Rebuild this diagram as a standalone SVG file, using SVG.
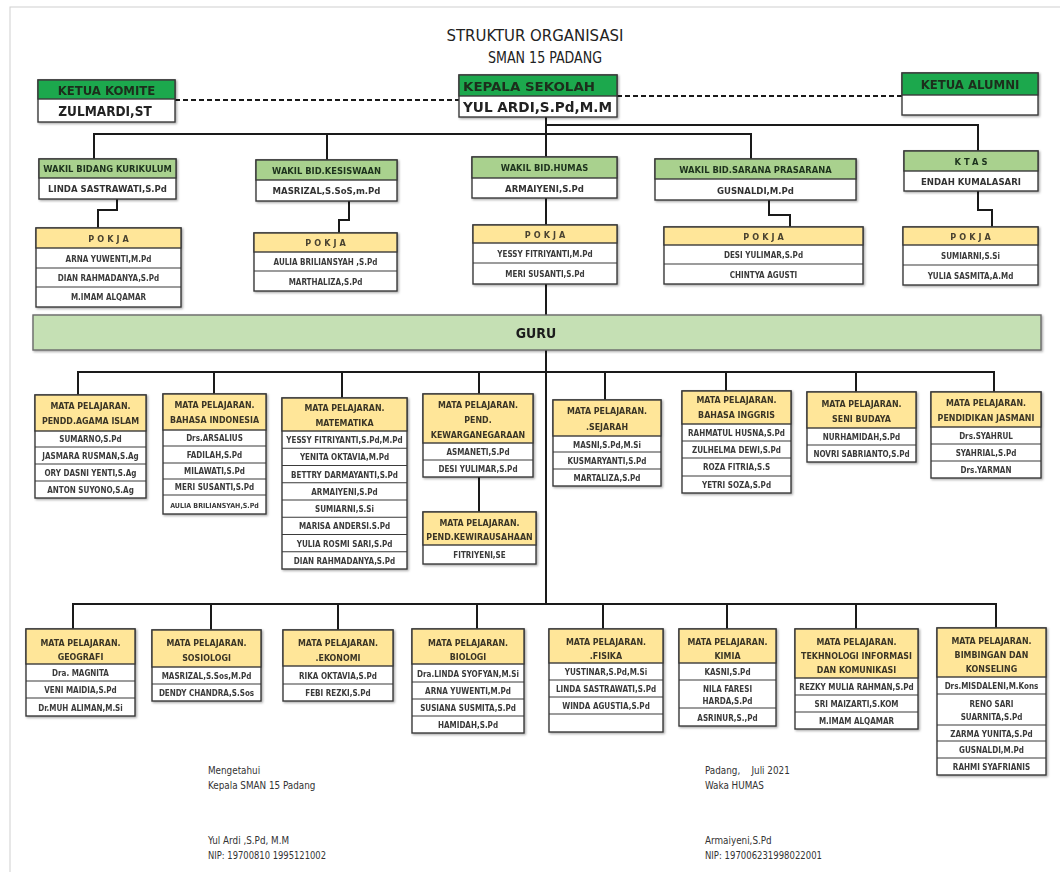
<svg xmlns="http://www.w3.org/2000/svg" width="1060" height="872" viewBox="0 0 1060 872">
<style>
text{font-family:"DejaVu Sans Condensed","DejaVu Sans",sans-serif;text-anchor:middle}
.tt{font-size:15.5px;fill:#222}
.th{font-size:13px;font-weight:bold;fill:#1c2e1c}
.tn{font-size:13.5px;font-weight:bold;fill:#222}
.hw{font-size:9.3px;font-weight:bold;fill:#1e331e}
.nm{font-size:9.5px;font-weight:bold;fill:#333}
.mh{font-size:8.8px;font-weight:bold;fill:#3a3526}
.pk{font-size:9px;font-weight:bold;fill:#4a4330;letter-spacing:3px}
.r{font-size:8px;font-weight:bold;fill:#3a3a3a}
.sg{font-size:9.8px;fill:#333;text-anchor:start}
.bx{fill:#fff;stroke:#3a3a3a;stroke-width:1.4}
.g1{fill:#1fa84e;stroke:#3a3a3a;stroke-width:1.4}
.g2{fill:#a9d18e;stroke:#3a3a3a;stroke-width:1.4}
.y{fill:#ffe699;stroke:#3a3a3a;stroke-width:1.4}
.s{stroke:#3a3a3a;stroke-width:1.2}
.ln{stroke:#1a1a1a;stroke-width:2;fill:none}
.dl{stroke:#1a1a1a;stroke-width:2;stroke-dasharray:5 3;fill:none}
</style>
<defs>
<filter id="sh" x="-5%" y="-5%" width="115%" height="115%"><feDropShadow dx="1.2" dy="1.2" stdDeviation="0.8" flood-color="#000" flood-opacity="0.35"/></filter>
</defs>
<rect x="0" y="0" width="1060" height="872" fill="#fff"/>
<rect x="10" y="7" width="1070" height="880" fill="none" stroke="#d0d0d0" stroke-width="1"/>
<text class="tt" x="535" y="41" textLength="177" lengthAdjust="spacingAndGlyphs">STRUKTUR ORGANISASI</text>
<text class="tt" x="545" y="63" textLength="114" lengthAdjust="spacingAndGlyphs">SMAN 15 PADANG</text>

<g id="connectors">
<path class="dl" d="M175 100H459"/>
<path class="dl" d="M617 96H902"/>
<path class="ln" d="M546 117V157"/>
<path class="ln" d="M546 125H978V151"/>
<path class="ln" d="M94 159V134H751V159"/>
<path class="ln" d="M327 134V160"/>
<path class="ln" d="M117 199V210H98V228"/>
<path class="ln" d="M349 201V220H339V233"/>
<path class="ln" d="M546 198V225"/>
<path class="ln" d="M769 200V215H790V227"/>
<path class="ln" d="M978 191V210H992V227"/>
<path class="ln" d="M546 284V315"/>
<path class="ln" d="M546 350V604"/>
<path class="ln" d="M78 395V372H994V392"/>
<path class="ln" d="M214 372V394M342 372V398M479 372V394M605 372V400M726 372V391M856 372V392"/>
<path class="ln" d="M479 477V512"/>
<path class="ln" d="M73 629V604H996V628"/>
<path class="ln" d="M211 604V630M338 604V630M477 604V629M603 604V629M727 604V629M856 604V629"/>
</g>

<g id="ketua-komite" filter="url(#sh)">
<rect class="bx" x="38" y="80" width="137" height="42"/>
<rect class="g1" x="38" y="80" width="137" height="19"/>
<text class="th" x="106.5" y="94.5">KETUA KOMITE</text>
<text class="tn" x="105" y="116">ZULMARDI,ST</text>
</g>
<g id="kepala-sekolah" filter="url(#sh)">
<rect class="bx" x="459" y="75" width="158" height="42"/>
<rect class="g1" x="459" y="75" width="158" height="21"/>
<text class="th" x="463" y="91" style="text-anchor:start" textLength="132" lengthAdjust="spacingAndGlyphs">KEPALA SEKOLAH</text>
<text class="tn" x="463" y="112" style="text-anchor:start" textLength="149" lengthAdjust="spacingAndGlyphs">YUL ARDI,S.Pd,M.M</text>
</g>
<g id="ketua-alumni" filter="url(#sh)">
<rect class="bx" x="902" y="73" width="136" height="42"/>
<rect class="g1" x="902" y="73" width="136" height="22"/>
<text class="th" x="970" y="89">KETUA ALUMNI</text>
</g>

<g id="wakil-kurikulum" filter="url(#sh)">
<rect class="bx" x="39" y="159" width="137" height="40"/>
<rect class="g2" x="39" y="159" width="137" height="19"/>
<text class="hw" x="107.5" y="172">WAKIL BIDANG KURIKULUM</text>
<text class="nm" x="107.5" y="192">LINDA SASTRAWATI,S.Pd</text>
</g>
<g id="wakil-kesiswaan" filter="url(#sh)">
<rect class="bx" x="256" y="160" width="141" height="41"/>
<rect class="g2" x="256" y="160" width="141" height="20"/>
<text class="hw" x="326.5" y="174">WAKIL BID.KESISWAAN</text>
<text class="nm" x="326.5" y="194">MASRIZAL,S.SoS,m.Pd</text>
</g>
<g id="wakil-humas" filter="url(#sh)">
<rect class="bx" x="472" y="157" width="145" height="41"/>
<rect class="g2" x="472" y="157" width="145" height="21"/>
<text class="hw" x="544.5" y="171">WAKIL BID.HUMAS</text>
<text class="nm" x="544.5" y="192">ARMAIYENI,S.Pd</text>
</g>
<g id="wakil-sarana" filter="url(#sh)">
<rect class="bx" x="655" y="159" width="201" height="41"/>
<rect class="g2" x="655" y="159" width="201" height="20"/>
<text class="hw" x="755.5" y="173">WAKIL BID.SARANA PRASARANA</text>
<text class="nm" x="755.5" y="194">GUSNALDI,M.Pd</text>
</g>
<g id="ktas" filter="url(#sh)">
<rect class="bx" x="904" y="151" width="134" height="40"/>
<rect class="g2" x="904" y="151" width="134" height="20"/>
<text class="hw" x="972.5" y="165" style="letter-spacing:3px">KTAS</text>
<text class="nm" x="971" y="185">ENDAH KUMALASARI</text>
</g>

<g id="pokja-kurikulum" filter="url(#sh)">
<rect class="bx" x="36" y="228" width="145" height="79"/>
<rect class="y" x="36" y="228" width="145" height="20"/>
<path class="s" d="M36 268H181M36 287H181"/>
<text class="pk" x="110" y="242">POKJA</text>
<text class="r" x="108.5" y="262">ARNA YUWENTI,M.Pd</text>
<text class="r" x="108.5" y="281">DIAN RAHMADANYA,S.Pd</text>
<text class="r" x="108.5" y="300">M.IMAM ALQAMAR</text>
</g>
<g id="pokja-kesiswaan" filter="url(#sh)">
<rect class="bx" x="254" y="233" width="143" height="58"/>
<rect class="y" x="254" y="233" width="143" height="19"/>
<path class="s" d="M254 271H397"/>
<text class="pk" x="327" y="246">POKJA</text>
<text class="r" x="325.5" y="265">AULIA BRILIANSYAH ,S.Pd</text>
<text class="r" x="325.5" y="285">MARTHALIZA,S.Pd</text>
</g>
<g id="pokja-humas" filter="url(#sh)">
<rect class="bx" x="473" y="225" width="144" height="59"/>
<rect class="y" x="473" y="225" width="144" height="18"/>
<path class="s" d="M473 263H617"/>
<text class="pk" x="546.5" y="238">POKJA</text>
<text class="r" x="545" y="257">YESSY FITRIYANTI,M.Pd</text>
<text class="r" x="545" y="277">MERI SUSANTI,S.Pd</text>
</g>
<g id="pokja-sarana" filter="url(#sh)">
<rect class="bx" x="664" y="227" width="199" height="57"/>
<rect class="y" x="664" y="227" width="199" height="18"/>
<path class="s" d="M664 264H863"/>
<text class="pk" x="765" y="240">POKJA</text>
<text class="r" x="763.5" y="258">DESI YULIMAR,S.Pd</text>
<text class="r" x="763.5" y="278">CHINTYA AGUSTI</text>
</g>
<g id="pokja-ktas" filter="url(#sh)">
<rect class="bx" x="903" y="227" width="135" height="58"/>
<rect class="y" x="903" y="227" width="135" height="18"/>
<path class="s" d="M903 265H1038"/>
<text class="pk" x="972" y="240">POKJA</text>
<text class="r" x="970.5" y="259">SUMIARNI,S.Si</text>
<text class="r" x="970.5" y="279">YULIA SASMITA,A.Md</text>
</g>

<g id="guru" filter="url(#sh)">
<rect x="33" y="315" width="1008" height="35" fill="#c5e0b4" stroke="#6a6a6a" stroke-width="1.4"/>
<text x="536" y="338" style="font-size:14px;font-weight:bold;fill:#1a1a1a">GURU</text>
</g>

<g id="mp-agama" filter="url(#sh)">
<rect class="bx" x="35" y="395" width="111" height="103"/>
<rect class="y" x="35" y="395" width="111" height="36"/>
<path class="s" d="M35 447H146M35 464H146M35 481H146"/>
<text class="mh" x="90.5" y="409">MATA PELAJARAN.</text>
<text class="mh" x="90.5" y="424">PENDD.AGAMA ISLAM</text>
<text class="r" x="90.5" y="442">SUMARNO,S.Pd</text>
<text class="r" x="90.5" y="459">JASMARA RUSMAN,S.Ag</text>
<text class="r" x="90.5" y="476">ORY DASNI YENTI,S.Ag</text>
<text class="r" x="90.5" y="493">ANTON SUYONO,S.Ag</text>
</g>
<g id="mp-bindo" filter="url(#sh)">
<rect class="bx" x="163" y="394" width="103" height="120"/>
<rect class="y" x="163" y="394" width="103" height="36"/>
<path class="s" d="M163 446H266M163 463H266M163 479H266M163 495H266"/>
<text class="mh" x="214.5" y="408">MATA PELAJARAN.</text>
<text class="mh" x="214.5" y="423">BAHASA INDONESIA</text>
<text class="r" x="214.5" y="441">Drs.ARSALIUS</text>
<text class="r" x="214.5" y="458">FADILAH,S.Pd</text>
<text class="r" x="214.5" y="474">MILAWATI,S.Pd</text>
<text class="r" x="214.5" y="490">MERI SUSANTI,S.Pd</text>
<text class="r" x="214.5" y="508" style="font-size:7px">AULIA BRILIANSYAH,S.Pd</text>
</g>
<g id="mp-matematika" filter="url(#sh)">
<rect class="bx" x="282" y="398" width="125" height="171"/>
<rect class="y" x="282" y="398" width="125" height="33"/>
<path class="s" d="M282 448.25H407M282 465.5H407M282 482.75H407M282 500H407M282 517.25H407M282 534.5H407M282 551.75H407"/>
<text class="mh" x="344.5" y="411">MATA PELAJARAN.</text>
<text class="mh" x="344.5" y="426">MATEMATIKA</text>
<text class="r" x="344.5" y="443">YESSY FITRIYANTI,S.Pd,M.Pd</text>
<text class="r" x="344.5" y="460.3">YENITA OKTAVIA,M.Pd</text>
<text class="r" x="344.5" y="477.5">BETTRY DARMAYANTI,S.Pd</text>
<text class="r" x="344.5" y="494.8">ARMAIYENI,S.Pd</text>
<text class="r" x="344.5" y="512">SUMIARNI,S.Si</text>
<text class="r" x="344.5" y="529.3">MARISA ANDERSI.S.Pd</text>
<text class="r" x="344.5" y="546.5">YULIA ROSMI SARI,S.Pd</text>
<text class="r" x="344.5" y="563.8">DIAN RAHMADANYA,S.Pd</text>
</g>
<g id="mp-pkn" filter="url(#sh)">
<rect class="bx" x="423" y="394" width="110" height="83"/>
<rect class="y" x="423" y="394" width="110" height="49"/>
<path class="s" d="M423 460H533"/>
<text class="mh" x="478" y="408">MATA PELAJARAN.</text>
<text class="mh" x="478" y="423">PEND.</text>
<text class="mh" x="478" y="438">KEWARGANEGARAAN</text>
<text class="r" x="478" y="455">ASMANETI,S.Pd</text>
<text class="r" x="478" y="472">DESI YULIMAR,S.Pd</text>
</g>
<g id="mp-kewirausahaan" filter="url(#sh)">
<rect class="bx" x="423" y="512" width="113" height="52"/>
<rect class="y" x="423" y="512" width="113" height="33"/>
<text class="mh" x="479.5" y="526">MATA PELAJARAN.</text>
<text class="mh" x="479.5" y="540">PEND.KEWIRAUSAHAAN</text>
<text class="r" x="479.5" y="558">FITRIYENI,SE</text>
</g>
<g id="mp-sejarah" filter="url(#sh)">
<rect class="bx" x="553" y="400" width="108" height="86"/>
<rect class="y" x="553" y="400" width="108" height="36"/>
<path class="s" d="M553 452H661M553 469H661"/>
<text class="mh" x="607" y="414">MATA PELAJARAN.</text>
<text class="mh" x="607" y="430">.SEJARAH</text>
<text class="r" x="607" y="448">MASNI,S.Pd,M.Si</text>
<text class="r" x="607" y="464">KUSMARYANTI,S.Pd</text>
<text class="r" x="607" y="481">MARTALIZA,S.Pd</text>
</g>
<g id="mp-binggris" filter="url(#sh)">
<rect class="bx" x="682" y="391" width="109" height="102"/>
<rect class="y" x="682" y="391" width="109" height="33"/>
<path class="s" d="M682 441H791M682 458H791M682 476H791"/>
<text class="mh" x="736.5" y="403">MATA PELAJARAN.</text>
<text class="mh" x="736.5" y="418">BAHASA INGGRIS</text>
<text class="r" x="736.5" y="436">RAHMATUL HUSNA,S.Pd</text>
<text class="r" x="736.5" y="453">ZULHELMA DEWI,S.Pd</text>
<text class="r" x="736.5" y="470">ROZA FITRIA,S.S</text>
<text class="r" x="736.5" y="488">YETRI SOZA,S.Pd</text>
</g>
<g id="mp-seni" filter="url(#sh)">
<rect class="bx" x="807" y="392" width="109" height="70"/>
<rect class="y" x="807" y="392" width="109" height="36"/>
<path class="s" d="M807 445H916"/>
<text class="mh" x="861.5" y="407">MATA PELAJARAN.</text>
<text class="mh" x="861.5" y="422">SENI BUDAYA</text>
<text class="r" x="861.5" y="440">NURHAMIDAH,S.Pd</text>
<text class="r" x="861.5" y="457">NOVRI SABRIANTO,S.Pd</text>
</g>
<g id="mp-penjas" filter="url(#sh)">
<rect class="bx" x="931" y="392" width="110" height="86"/>
<rect class="y" x="931" y="392" width="110" height="35"/>
<path class="s" d="M931 444H1041M931 461H1041"/>
<text class="mh" x="986" y="406">MATA PELAJARAN.</text>
<text class="mh" x="986" y="421">PENDIDIKAN JASMANI</text>
<text class="r" x="986" y="439">Drs.SYAHRUL</text>
<text class="r" x="986" y="456">SYAHRIAL,S.Pd</text>
<text class="r" x="986" y="473">Drs.YARMAN</text>
</g>

<g id="mp-geografi" filter="url(#sh)">
<rect class="bx" x="26" y="629" width="109" height="87"/>
<rect class="y" x="26" y="629" width="109" height="35"/>
<path class="s" d="M26 681H135M26 698H135"/>
<text class="mh" x="80.5" y="646">MATA PELAJARAN.</text>
<text class="mh" x="80.5" y="660">GEOGRAFI</text>
<text class="r" x="80.5" y="676">Dra. MAGNITA</text>
<text class="r" x="80.5" y="693">VENI MAIDIA,S.Pd</text>
<text class="r" x="80.5" y="711">Dr.MUH ALIMAN,M.Si</text>
</g>
<g id="mp-sosiologi" filter="url(#sh)">
<rect class="bx" x="152" y="630" width="109" height="71"/>
<rect class="y" x="152" y="630" width="109" height="37"/>
<path class="s" d="M152 684H261"/>
<text class="mh" x="206.5" y="646">MATA PELAJARAN.</text>
<text class="mh" x="206.5" y="661">SOSIOLOGI</text>
<text class="r" x="206.5" y="679">MASRIZAL,S.Sos,M.Pd</text>
<text class="r" x="206.5" y="696">DENDY CHANDRA,S.Sos</text>
</g>
<g id="mp-ekonomi" filter="url(#sh)">
<rect class="bx" x="283" y="630" width="110" height="71"/>
<rect class="y" x="283" y="630" width="110" height="36"/>
<path class="s" d="M283 684H393"/>
<text class="mh" x="338" y="646">MATA PELAJARAN.</text>
<text class="mh" x="338" y="661">.EKONOMI</text>
<text class="r" x="338" y="679">RIKA OKTAVIA,S.Pd</text>
<text class="r" x="338" y="696">FEBI REZKI,S.Pd</text>
</g>
<g id="mp-biologi" filter="url(#sh)">
<rect class="bx" x="412" y="629" width="112" height="104"/>
<rect class="y" x="412" y="629" width="112" height="35"/>
<path class="s" d="M412 682H524M412 699H524M412 716H524"/>
<text class="mh" x="468" y="646">MATA PELAJARAN.</text>
<text class="mh" x="468" y="660">BIOLOGI</text>
<text class="r" x="468" y="677">Dra.LINDA SYOFYAN,M.Si</text>
<text class="r" x="468" y="694">ARNA YUWENTI,M.Pd</text>
<text class="r" x="468" y="711">SUSIANA SUSMITA,S.Pd</text>
<text class="r" x="468" y="728">HAMIDAH,S.Pd</text>
</g>
<g id="mp-fisika" filter="url(#sh)">
<rect class="bx" x="549" y="629" width="114" height="103"/>
<rect class="y" x="549" y="629" width="114" height="34"/>
<path class="s" d="M549 680H663M549 697H663M549 714H663"/>
<text class="mh" x="606" y="645">MATA PELAJARAN.</text>
<text class="mh" x="606" y="659">.FISIKA</text>
<text class="r" x="606" y="675">YUSTINAR,S.Pd,M.Si</text>
<text class="r" x="606" y="692">LINDA SASTRAWATI,S.Pd</text>
<text class="r" x="606" y="709">WINDA AGUSTIA,S.Pd</text>
</g>
<g id="mp-kimia" filter="url(#sh)">
<rect class="bx" x="679" y="629" width="97" height="97"/>
<rect class="y" x="679" y="629" width="97" height="34"/>
<path class="s" d="M679 680H776M679 708H776"/>
<text class="mh" x="727.5" y="645">MATA PELAJARAN.</text>
<text class="mh" x="727.5" y="659">KIMIA</text>
<text class="r" x="727.5" y="675">KASNI,S.Pd</text>
<text class="r" x="727.5" y="692">NILA FARESI</text>
<text class="r" x="727.5" y="704">HARDA,S.Pd</text>
<text class="r" x="727.5" y="721">ASRINUR,S.,Pd</text>
</g>
<g id="mp-tik" filter="url(#sh)">
<rect class="bx" x="795" y="629" width="123" height="100"/>
<rect class="y" x="795" y="629" width="123" height="49"/>
<path class="s" d="M795 695H918M795 712H918"/>
<text class="mh" x="856.5" y="645">MATA PELAJARAN.</text>
<text class="mh" x="856.5" y="659">TEKHNOLOGI INFORMASI</text>
<text class="mh" x="856.5" y="673">DAN KOMUNIKASI</text>
<text class="r" x="856.5" y="690">REZKY MULIA RAHMAN,S.Pd</text>
<text class="r" x="856.5" y="707">SRI MAIZARTI,S.KOM</text>
<text class="r" x="856.5" y="724">M.IMAM ALQAMAR</text>
</g>
<g id="mp-bk" filter="url(#sh)">
<rect class="bx" x="937" y="628" width="109" height="147"/>
<rect class="y" x="937" y="628" width="109" height="49"/>
<path class="s" d="M937 694H1046M937 725H1046M937 741H1046M937 758H1046"/>
<text class="mh" x="991.5" y="644">MATA PELAJARAN.</text>
<text class="mh" x="991.5" y="658">BIMBINGAN DAN</text>
<text class="mh" x="991.5" y="672">KONSELING</text>
<text class="r" x="991.5" y="689">Drs.MISDALENI,M.Kons</text>
<text class="r" x="991.5" y="707">RENO SARI</text>
<text class="r" x="991.5" y="720">SUARNITA,S.Pd</text>
<text class="r" x="991.5" y="737">ZARMA YUNITA,S.Pd</text>
<text class="r" x="991.5" y="753">GUSNALDI,M.Pd</text>
<text class="r" x="991.5" y="770">RAHMI SYAFRIANIS</text>
</g>

<g id="signature-left">
<text class="sg" x="208" y="774">Mengetahui</text>
<text class="sg" x="208" y="789">Kepala SMAN 15 Padang</text>
<text class="sg" x="208" y="844">Yul Ardi ,S.Pd, M.M</text>
<text class="sg" x="208" y="859" textLength="118" lengthAdjust="spacingAndGlyphs">NIP: 19700810 1995121002</text>
</g>
<g id="signature-right">
<text class="sg" x="705" y="774" xml:space="preserve">Padang,    Juli 2021</text>
<text class="sg" x="705" y="789">Waka HUMAS</text>
<text class="sg" x="705" y="844">Armaiyeni,S.Pd</text>
<text class="sg" x="705" y="859" textLength="117" lengthAdjust="spacingAndGlyphs">NIP: 197006231998022001</text>
</g>
</svg>
